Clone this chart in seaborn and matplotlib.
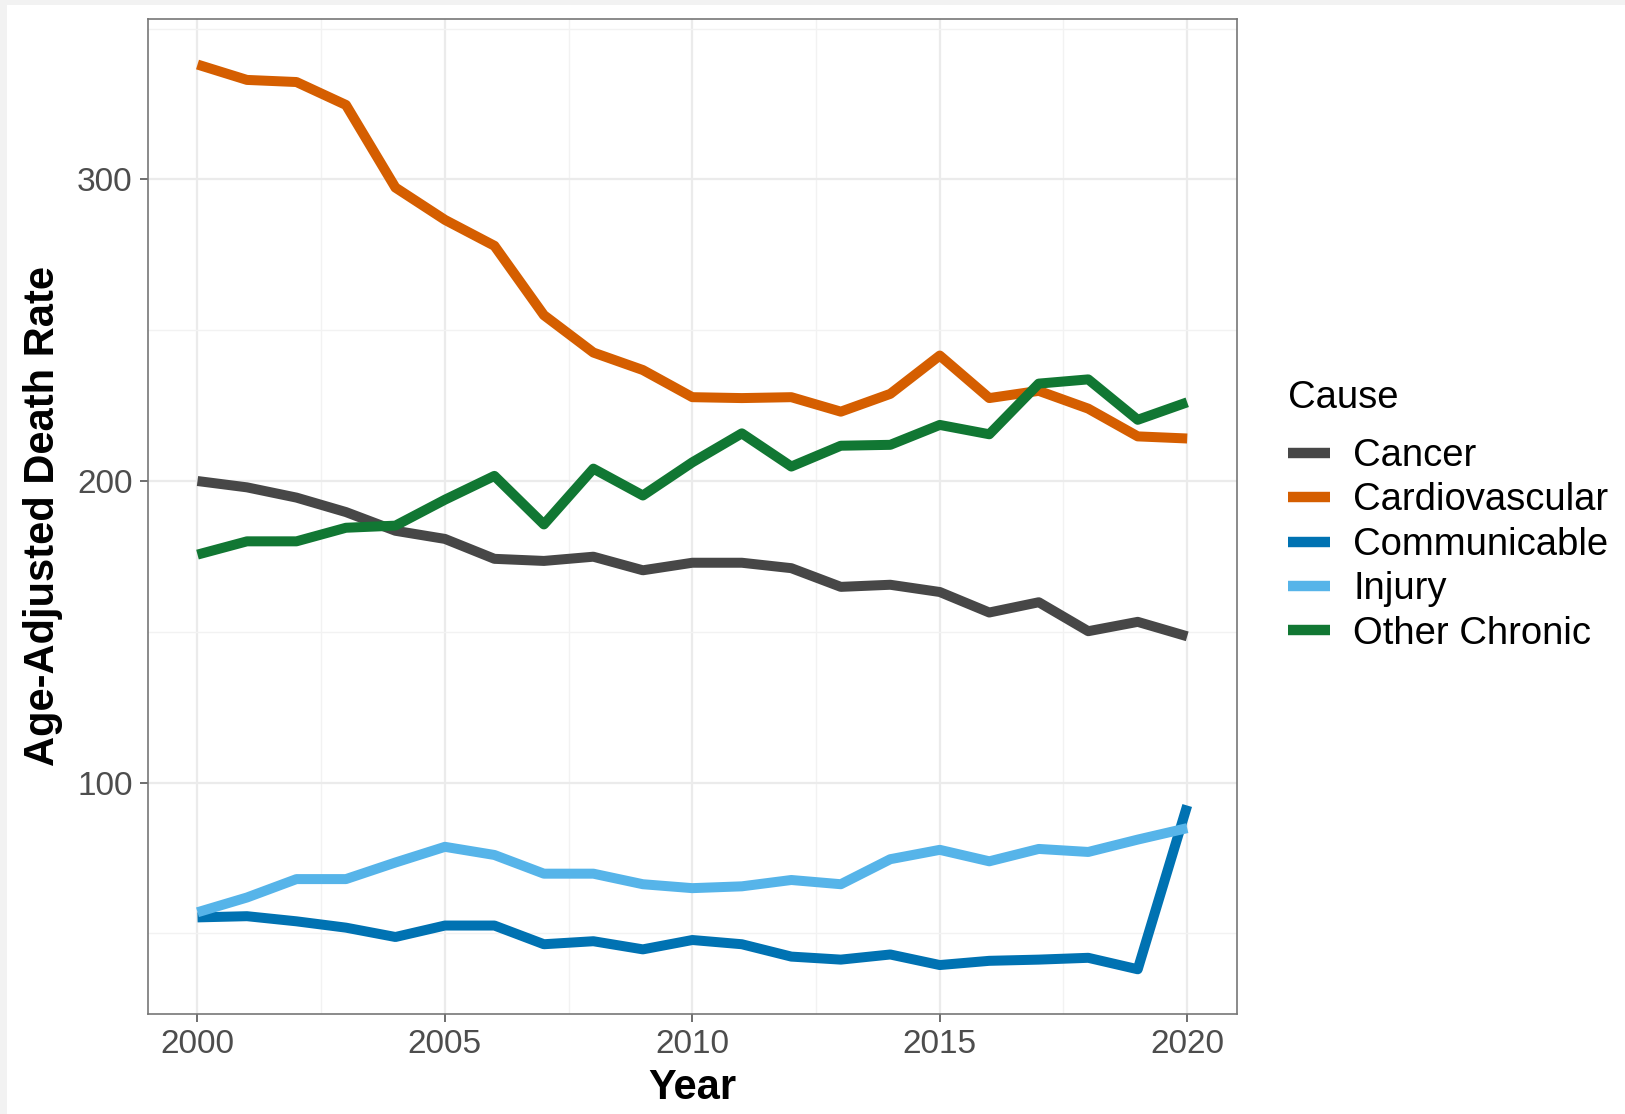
import numpy as np
import pandas as pd
import matplotlib
matplotlib.use("Agg")
import matplotlib.pyplot as plt
import seaborn as sns
from matplotlib.patches import Rectangle
from matplotlib.ticker import MultipleLocator

years = list(range(2000, 2021))

cancer = [200.0, 197.9, 194.5, 189.7, 183.5, 180.8, 174.2, 173.5, 174.9, 170.4, 172.9,
          172.9, 171.1, 164.9, 165.6, 163.2, 156.4, 159.8, 150.2, 153.3, 148.5]
cardiovascular = [338.1, 333.0, 332.3, 324.7, 297.3, 286.6, 278.0, 255.0, 242.6, 236.8, 227.8,
                  227.5, 227.8, 223.0, 228.9, 241.6, 227.5, 229.9, 224.0, 214.8, 214.1]
communicable = [55.3, 55.7, 54.0, 51.9, 48.8, 52.6, 52.6, 46.4, 47.4, 44.7, 47.8,
                46.4, 42.3, 41.3, 43.0, 39.5, 40.9, 41.3, 41.9, 38.1, 92.4]
injury = [57.0, 61.9, 68.0, 68.0, 73.5, 78.7, 76.0, 69.8, 69.8, 66.3, 65.0,
          65.6, 67.7, 66.3, 74.6, 77.7, 73.9, 78.0, 77.0, 81.1, 84.9]
other_chronic = [175.6, 180.0, 180.0, 184.5, 185.2, 193.8, 201.7, 185.6, 204.1, 195.2, 206.2,
                 215.8, 204.8, 211.7, 212.0, 218.6, 215.5, 232.3, 233.7, 220.3, 226.1]

causes = ["Cancer", "Cardiovascular", "Communicable", "Injury", "Other Chronic"]
palette = {"Cancer": "#474747", "Cardiovascular": "#D55E00", "Communicable": "#0072B2",
           "Injury": "#56B4E9", "Other Chronic": "#117733"}

series = [cancer, cardiovascular, communicable, injury, other_chronic]
df = pd.concat([pd.DataFrame({"Year": years, "Rate": vals, "Cause": name})
                for name, vals in zip(causes, series)], ignore_index=True)

sns.set_theme(style="white")
plt.rcParams["font.family"] = ["Liberation Sans", "DejaVu Sans"]
plt.rcParams["text.color"] = "black"
plt.rcParams["axes.labelcolor"] = "black"

fig = plt.figure(figsize=(16.25, 11.14), dpi=100)
fig.patch.set_facecolor("#f2f2f2")
# white card inside the thin grey frame
fig.add_artist(Rectangle((7 / 1625, 0), 1 - 7 / 1625, 1 - 5 / 1114,
                         transform=fig.transFigure, facecolor="white",
                         edgecolor="none", zorder=-5))

ax = fig.add_axes([148 / 1625, 1 - 1013.6 / 1114, (1236.7 - 148) / 1625, (1013.6 - 18.7) / 1114])
ax.set_zorder(1)
ax.set_facecolor("white")

sns.lineplot(data=df, x="Year", y="Rate", hue="Cause", hue_order=causes,
             palette=palette, linewidth=7.2, ax=ax, solid_capstyle="butt")

ax.set_xlim(1999, 2021)
ax.set_ylim(23.4, 353.3)
ax.xaxis.set_major_locator(MultipleLocator(5))
ax.xaxis.set_minor_locator(MultipleLocator(2.5))
ax.yaxis.set_major_locator(MultipleLocator(100))
ax.yaxis.set_minor_locator(MultipleLocator(50))
ax.grid(which="major", color="#ebebeb", linewidth=1.6)
ax.grid(which="minor", color="#f2f2f2", linewidth=1.0)
ax.set_axisbelow(True)

for s in ax.spines.values():
    s.set_color("#777777")
    s.set_linewidth(1.2)

ax.tick_params(axis="both", which="major", length=6, width=1.2, color="#555555",
               labelsize=24, labelcolor="#4d4d4d", pad=5, left=True, bottom=True)
ax.tick_params(axis="both", which="minor", length=0)

ax.set_xlabel("Year", fontsize=30, fontweight="bold", labelpad=6, color="black")
ax.set_ylabel("Age-Adjusted Death Rate", fontsize=30, fontweight="bold", labelpad=10,
              color="black")

leg = ax.legend(title="Cause", loc="center left", bbox_to_anchor=(1273 / 1625, 0.537),
                bbox_transform=fig.transFigure, frameon=False, fontsize=27.5,
                title_fontsize=27.5, handlelength=1.1, handletextpad=0.6,
                labelspacing=0.22, borderaxespad=0)
leg._legend_box.align = "left"
leg._legend_box.sep = 16
for t in leg.get_texts():
    t.set_color("black")
leg.get_title().set_color("black")
for line in leg.get_lines():
    line.set_linewidth(7.5)

fig.savefig("out.png", dpi=100, facecolor=fig.get_facecolor())
